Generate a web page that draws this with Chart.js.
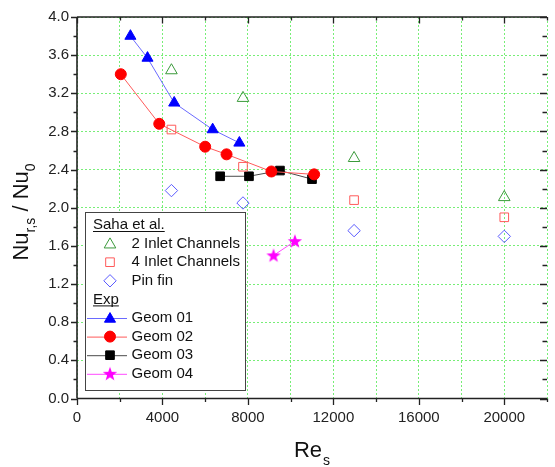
<!DOCTYPE html>
<html>
<head>
<meta charset="utf-8">
<script src="https://cdn.jsdelivr.net/npm/chart.js@4.4.1/dist/chart.umd.min.js"></script>
<style>
  html, body { margin: 0; padding: 0; overflow: hidden; background: #fff; }
  canvas { display: block; }
</style>
</head>
<body>
<canvas id="nuChart" width="557" height="467" style="width:557px;height:467px"></canvas>
<script>
// Saha et al. (open symbols)
const sahaRe = [4420, 7770, 12970, 20000];
const saha2InletNu = [3.44, 3.15, 2.52, 2.11];
const saha4InletNu = [2.82, 2.43, 2.08, 1.90];
const pinFinNu = [2.18, 2.05, 1.76, 1.70];

// Exp
const geom01Re = [2500, 3300, 4550, 6350, 7600];
const geom01Nu = [3.80, 3.57, 3.10, 2.82, 2.68];
const geom02Re = [2050, 3850, 6000, 7000, 9100, 11100];
const geom02Nu = [3.40, 2.88, 2.64, 2.56, 2.38, 2.35];
const geom03Re = [6700, 8050, 9500, 11000];
const geom03Nu = [2.33, 2.33, 2.39, 2.30];
const geom04Re = [9200, 10200];
const geom04Nu = [1.50, 1.65];

// tick labels
const xTickLabels = [0, 4000, 8000, 12000, 16000, 20000];
const yTickLabels = ['0.0', '0.4', '0.8', '1.2', '1.6', '2.0', '2.4', '2.8', '3.2', '3.6', '4.0'];

const FONT = 'Arial, "Liberation Sans", sans-serif';
const zip = (xs, ys) => xs.map((x, i) => ({ x: x, y: ys[i] }));

// filled star marker (Chart.js 'star' is only a crossed outline)
function makeStar(color) {
    const c = document.createElement('canvas');
    c.width = 16; c.height = 16;
    const g = c.getContext('2d');
    g.beginPath();
    for (let i = 0; i < 10; i++) {
        const r = i % 2 === 0 ? 7.5 : 3;
        const a = -Math.PI / 2 + i * Math.PI / 5;
        g.lineTo(8 + r * Math.cos(a), 8.5 + r * Math.sin(a));
    }
    g.closePath();
    g.fillStyle = color;
    g.fill();
    return c;
}
const starImg = makeStar('#ff00ff');

const datasets = [
    { label: '2 Inlet Channels', data: zip(sahaRe, saha2InletNu), showLine: false,
      pointStyle: 'triangle', pointRadius: 6.7, pointBorderWidth: 1,
      borderColor: '#3b9a3b', backgroundColor: 'rgba(0,0,0,0)', group: 'saha' },
    { label: '4 Inlet Channels', data: zip(sahaRe, saha4InletNu), showLine: false,
      pointStyle: 'rect', pointRadius: 6.1, pointBorderWidth: 1,
      borderColor: '#ff5a5a', backgroundColor: 'rgba(0,0,0,0)', group: 'saha' },
    { label: 'Pin fin', data: zip(sahaRe, pinFinNu), showLine: false,
      pointStyle: 'rectRot', pointRadius: 6.2, pointBorderWidth: 1,
      borderColor: '#5a5aff', backgroundColor: 'rgba(0,0,0,0)', group: 'saha' },
    { label: 'Geom 01', data: zip(geom01Re, geom01Nu), showLine: true, borderWidth: 1,
      borderColor: '#6a6aff', pointStyle: 'triangle', pointRadius: 6.4, pointBorderWidth: 1,
      pointBackgroundColor: '#0000ff', pointBorderColor: '#0000ff', group: 'exp' },
    { label: 'Geom 02', data: zip(geom02Re, geom02Nu), showLine: true, borderWidth: 1,
      borderColor: '#ff5a5a', pointStyle: 'circle', pointRadius: 5.5, pointBorderWidth: 1,
      pointBackgroundColor: '#ff0000', pointBorderColor: '#ff0000', group: 'exp' },
    { label: 'Geom 03', data: zip(geom03Re, geom03Nu), showLine: true, borderWidth: 1,
      borderColor: '#4a4a4a', pointStyle: 'rect', pointRadius: 6.1, pointBorderWidth: 1,
      pointBackgroundColor: '#000000', pointBorderColor: '#000000', group: 'exp' },
    { label: 'Geom 04', data: zip(geom04Re, geom04Nu), showLine: true, borderWidth: 1,
      borderColor: '#ff4aff', pointStyle: starImg, pointRadius: 7,
      pointBackgroundColor: '#ff00ff', pointBorderColor: '#ff00ff', group: 'exp' }
];

// axes frame, minor/major ticks, titles with subscripts, grouped legend
const framePlugin = {
    id: 'frame',
    afterDraw(chart) {
        const { ctx, chartArea: a, scales: { x, y } } = chart;
        ctx.save();
        ctx.strokeStyle = '#222';
        ctx.lineWidth = 1.6;
        ctx.beginPath();
        ctx.moveTo(a.left, a.top); ctx.lineTo(a.right, a.top);
        ctx.moveTo(a.left, a.top); ctx.lineTo(a.left, a.bottom);
        ctx.moveTo(a.left, a.bottom); ctx.lineTo(a.right, a.bottom);
        ctx.stroke();

        ctx.lineWidth = 1.3;
        ctx.beginPath();
        for (let v = 0; v <= 22000; v += 2000) {
            const px = Math.round(x.getPixelForValue(v)) + 0.5;
            const len = v % 4000 === 0 ? 6.5 : 3.5;
            ctx.moveTo(px, a.bottom); ctx.lineTo(px, a.bottom + len);
            ctx.moveTo(px, a.top); ctx.lineTo(px, a.top + len);
        }
        for (let i = 0; i <= 20; i++) {
            const py = Math.round(y.getPixelForValue(i * 0.2)) + 0.5;
            const len = i % 2 === 0 ? 6 : 3.5;
            ctx.moveTo(a.left, py); ctx.lineTo(a.left - len, py);
            ctx.moveTo(a.right, py); ctx.lineTo(a.right - len - 1, py);
        }
        ctx.stroke();

        // x title: Re_s
        ctx.fillStyle = '#111';
        ctx.textBaseline = 'alphabetic';
        ctx.textAlign = 'left';
        const big = '22px ' + FONT, sub = '14px ' + FONT;
        ctx.font = big;
        const wRe = ctx.measureText('Re').width;
        ctx.font = sub;
        const wS = ctx.measureText('s').width;
        let sx = (a.left + a.right) / 2 - (wRe + wS + 1) / 2;
        ctx.font = big;
        ctx.fillText('Re', sx, 456.5);
        ctx.font = sub;
        ctx.fillText('s', sx + wRe + 1, 464.5);

        // y title: Nu_{r,s} / Nu_0
        const parts = [['Nu', big, 0], ['r,s', sub, 7], [' / ', big, 0], ['Nu', big, 0], ['0', sub, 7]];
        let total = 0;
        parts.forEach(p => { ctx.font = p[1]; p.push(ctx.measureText(p[0]).width); total += p[3]; });
        ctx.save();
        ctx.translate(28, 212);
        ctx.rotate(-Math.PI / 2);
        let tx = -total / 2;
        parts.forEach(p => { ctx.font = p[1]; ctx.fillText(p[0], tx, p[2]); tx += p[3]; });
        ctx.restore();

        // legend box
        const L = 85.5, T = 212.5, R = 245.5, B = 390.5;
        ctx.fillStyle = '#fff';
        ctx.fillRect(L, T, R - L, B - T);
        ctx.strokeStyle = '#444';
        ctx.lineWidth = 1;
        ctx.strokeRect(L, T, R - L, B - T);

        const rowY = i => 225 + 18.6 * i;
        const legFont = '15px ' + FONT;
        ctx.font = legFont;
        ctx.textBaseline = 'middle';
        const header = (text, yy) => {
            ctx.fillStyle = '#111';
            ctx.fillText(text, 93, yy);
            const w = ctx.measureText(text).width;
            ctx.fillRect(93, yy + 6, w, 1);
        };
        const drawEntry = (ds, yy) => {
            if (ds.showLine) {
                ctx.strokeStyle = ds.borderColor;
                ctx.lineWidth = 1;
                ctx.beginPath();
                ctx.moveTo(87, yy + 0.5); ctx.lineTo(127, yy + 0.5);
                ctx.stroke();
                ctx.fillStyle = ds.pointBackgroundColor;
                ctx.strokeStyle = ds.pointBorderColor;
            } else {
                ctx.fillStyle = 'rgba(0,0,0,0)';
                ctx.strokeStyle = ds.borderColor;
            }
            ctx.lineWidth = 1;
            Chart.helpers.drawPoint(ctx, { pointStyle: ds.pointStyle, rotation: 0,
                radius: ds.pointRadius, borderWidth: ds.pointBorderWidth || 0 }, 110, yy + (ds.pointStyle === 'triangle' ? 1 : 0));
            ctx.fillStyle = '#111';
            ctx.font = legFont;
            ctx.textBaseline = 'middle';
            ctx.fillText(ds.label, 131.5, yy);
        };
        let row = 0;
        header('Saha et al.', rowY(row++));
        datasets.filter(d => d.group === 'saha').forEach(d => drawEntry(d, rowY(row++)));
        header('Exp', rowY(row++));
        datasets.filter(d => d.group === 'exp').forEach(d => drawEntry(d, rowY(row++)));
        ctx.restore();
    }
};

new Chart(document.getElementById('nuChart').getContext('2d'), {
    type: 'scatter',
    data: { datasets: datasets },
    options: {
        responsive: false,
        animation: false,
        layout: { padding: { top: 13, right: 1, left: 0, bottom: 0 } },
        plugins: {
            legend: { display: false },
            tooltip: { enabled: false }
        },
        scales: {
            x: {
                type: 'linear',
                min: 0,
                max: 22000,
                afterFit: s => { s.height = 68.5; },
                grid: { color: '#77ee77', lineWidth: 1, drawTicks: false },
                border: { display: false, dash: [2, 2] },
                ticks: {
                    stepSize: 2000,
                    padding: 10,
                    maxRotation: 0,
                    autoSkip: false,
                    color: '#222',
                    font: { family: FONT, size: 15 },
                    callback: v => xTickLabels.includes(v) ? String(v) : ''
                }
            },
            y: {
                min: 0,
                max: 4,
                afterFit: s => { s.width = 77; },
                grid: { color: '#77ee77', lineWidth: 1, drawTicks: false },
                border: { display: false, dash: [2, 2] },
                ticks: {
                    stepSize: 0.4,
                    padding: 8,
                    color: '#222',
                    font: { family: FONT, size: 15 },
                    callback: (v, i) => yTickLabels[i]
                }
            }
        }
    },
    plugins: [framePlugin]
});
</script>
</body>
</html>
